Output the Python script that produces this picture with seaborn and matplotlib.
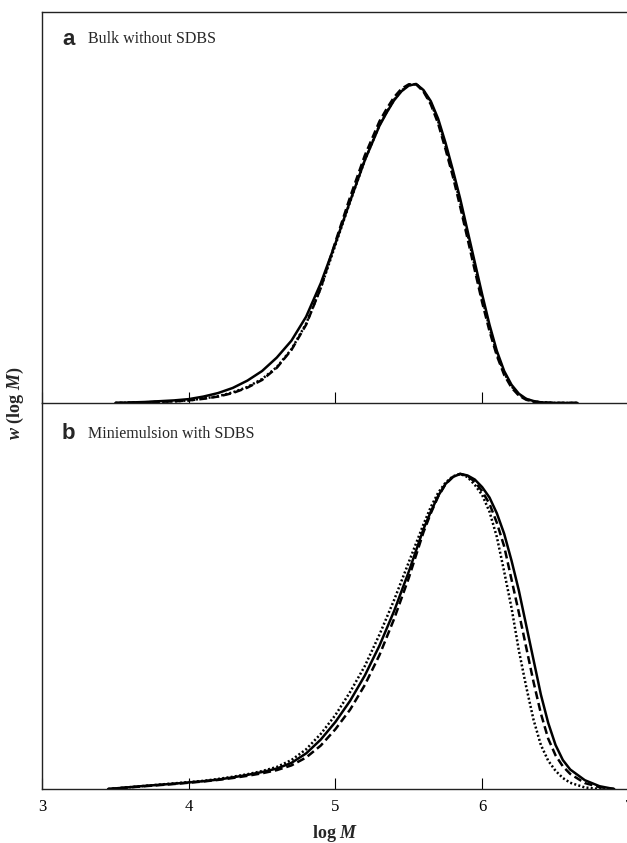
import numpy as np
import pandas as pd
import seaborn as sns
from matplotlib import pyplot as plt

# panel a: bulk without SDBS (w normalised to peak = 1)
logm_a = [3.5, 3.7, 3.9, 4.0, 4.1, 4.2, 4.3, 4.4, 4.5, 4.6, 4.7, 4.8, 4.9, 5.0, 5.1, 5.2, 5.3,
          5.35, 5.4, 5.45, 5.5, 5.55, 5.6, 5.65, 5.7, 5.75, 5.8, 5.85, 5.9, 5.95, 6.0, 6.05,
          6.1, 6.15, 6.2, 6.25, 6.3, 6.35, 6.4, 6.5, 6.65]
solid_a = [0, 0.003, 0.008, 0.012, 0.02, 0.031, 0.047, 0.07, 0.1, 0.142, 0.195, 0.27, 0.375, 0.5,
           0.632, 0.76, 0.868, 0.91, 0.948, 0.976, 0.994, 0.999, 0.98, 0.945, 0.89, 0.815, 0.73,
           0.64, 0.54, 0.44, 0.34, 0.245, 0.163, 0.1, 0.057, 0.029, 0.013, 0.006, 0.002, 0, 0]
dashed_a = [0, 0.002, 0.005, 0.008, 0.013, 0.02, 0.031, 0.048, 0.072, 0.11, 0.166, 0.245, 0.36,
            0.505, 0.645, 0.775, 0.882, 0.922, 0.958, 0.984, 0.998, 0.998, 0.975, 0.935, 0.875,
            0.795, 0.71, 0.615, 0.515, 0.415, 0.315, 0.225, 0.148, 0.088, 0.048, 0.023, 0.01,
            0.004, 0.001, 0, 0]
dotted_a = [0, 0.002, 0.005, 0.008, 0.014, 0.021, 0.033, 0.05, 0.075, 0.112, 0.168, 0.248, 0.36,
            0.495, 0.63, 0.76, 0.87, 0.912, 0.95, 0.978, 0.995, 0.999, 0.978, 0.94, 0.882, 0.805,
            0.72, 0.628, 0.528, 0.428, 0.328, 0.235, 0.155, 0.094, 0.052, 0.026, 0.012, 0.005,
            0.002, 0, 0]

# panel b: miniemulsion with SDBS
logm_b = [3.45, 3.7, 3.9, 4.0, 4.1, 4.2, 4.3, 4.4, 4.5, 4.6, 4.7, 4.8, 4.9, 5.0, 5.1, 5.2, 5.3,
          5.4, 5.5, 5.6, 5.65, 5.7, 5.75, 5.8, 5.85, 5.9, 5.95, 6.0, 6.05, 6.1, 6.15, 6.2, 6.25,
          6.3, 6.35, 6.4, 6.45, 6.5, 6.55, 6.6, 6.7, 6.8, 6.9]
solid_b = [0, 0.01, 0.017, 0.021, 0.025, 0.03, 0.037, 0.045, 0.054, 0.065, 0.083, 0.113, 0.157,
           0.213, 0.28, 0.36, 0.455, 0.565, 0.69, 0.825, 0.88, 0.93, 0.968, 0.99, 1.0, 0.995,
           0.982, 0.958, 0.925, 0.875, 0.81, 0.725, 0.63, 0.52, 0.41, 0.3, 0.21, 0.14, 0.092,
           0.062, 0.028, 0.009, 0]
dashed_b = [0, 0.009, 0.016, 0.02, 0.024, 0.029, 0.035, 0.042, 0.05, 0.06, 0.075, 0.1, 0.138,
            0.19, 0.252, 0.33, 0.425, 0.54, 0.67, 0.815, 0.875, 0.928, 0.967, 0.99, 1.0, 0.993,
            0.975, 0.945, 0.905, 0.845, 0.77, 0.665, 0.56, 0.45, 0.34, 0.24, 0.16, 0.107, 0.072,
            0.048, 0.019, 0.006, 0]
dotted_b = [0, 0.01, 0.018, 0.022, 0.026, 0.032, 0.039, 0.047, 0.057, 0.07, 0.092, 0.126, 0.175,
            0.235, 0.308, 0.39, 0.49, 0.6, 0.72, 0.84, 0.895, 0.94, 0.972, 0.992, 1.0, 0.99,
            0.965, 0.933, 0.88, 0.8, 0.69, 0.575, 0.44, 0.325, 0.22, 0.14, 0.09, 0.058, 0.035,
            0.02, 0.005, 0, 0]

panel_titles = ["Bulk without SDBS", "Miniemulsion with SDBS"]
panel_letters = ["a", "b"]
xticks = [3, 4, 5, 6, 7]

sns.set_style("ticks")
plt.rcParams["font.family"] = ["Liberation Serif", "DejaVu Serif"]
plt.rcParams["mathtext.fontset"] = "custom"
plt.rcParams["mathtext.it"] = "Liberation Serif:bold:italic"
plt.rcParams["mathtext.rm"] = "Liberation Serif:bold"


def make_df(x, solid, dashed, dotted):
    parts = []
    for name, vals in [("solid", solid), ("dashed", dashed), ("dotted", dotted)]:
        parts.append(pd.DataFrame({"logM": x, "w": vals, "run": name}))
    return pd.concat(parts, ignore_index=True)


frames = [make_df(logm_a, solid_a, dashed_a, dotted_a),
          make_df(logm_b, solid_b, dashed_b, dotted_b)]

fig = plt.figure(figsize=(6.27, 8.43), dpi=100)
ax_b = fig.add_axes([0.067, 0.064, 0.936, 0.458])
ax_a = fig.add_axes([0.067, 0.522, 0.936, 0.464])

dash_styles = {"solid": "", "dashed": (3.2, 1.6), "dotted": (0.8, 0.9)}

for i, ax in enumerate([ax_a, ax_b]):
    ax.set_facecolor("none")
    sns.lineplot(data=frames[i], x="logM", y="w", style="run", dashes=dash_styles,
                 color="black", lw=1.8, legend=False, ax=ax)
    ax.set_xlim(3, 7)
    ax.set_ylim(0, 1.225)
    ax.set_yticks([])
    ax.set_xticks(xticks)
    ax.tick_params(axis="x", direction="in", length=8, width=0.8, pad=7,
                   labelsize=12, colors="black")
    ax.set_xlabel("")
    ax.set_ylabel("")
    for s in ax.spines.values():
        s.set_linewidth(1.0)
        s.set_color("#222222")
    ypos = 0.93 if i == 0 else 0.92
    ax.text(0.034, ypos, panel_letters[i], transform=ax.transAxes,
            family="Liberation Sans", fontweight="bold", fontsize=16, va="center")
    ax.text(0.078, ypos, panel_titles[i], transform=ax.transAxes,
            fontsize=11.5, va="center")

ax_a.tick_params(axis="x", labelbottom=False)
ax_b.spines["top"].set_visible(False)

ax_b.set_xlabel(r"log $M$", fontsize=13, fontweight="bold", labelpad=6)
fig.text(0.024, 0.522, r"$w$ (log $M$)", rotation=90, fontsize=13, fontweight="bold",
         ha="center", va="center")

plt.savefig("out.png", dpi=100)
